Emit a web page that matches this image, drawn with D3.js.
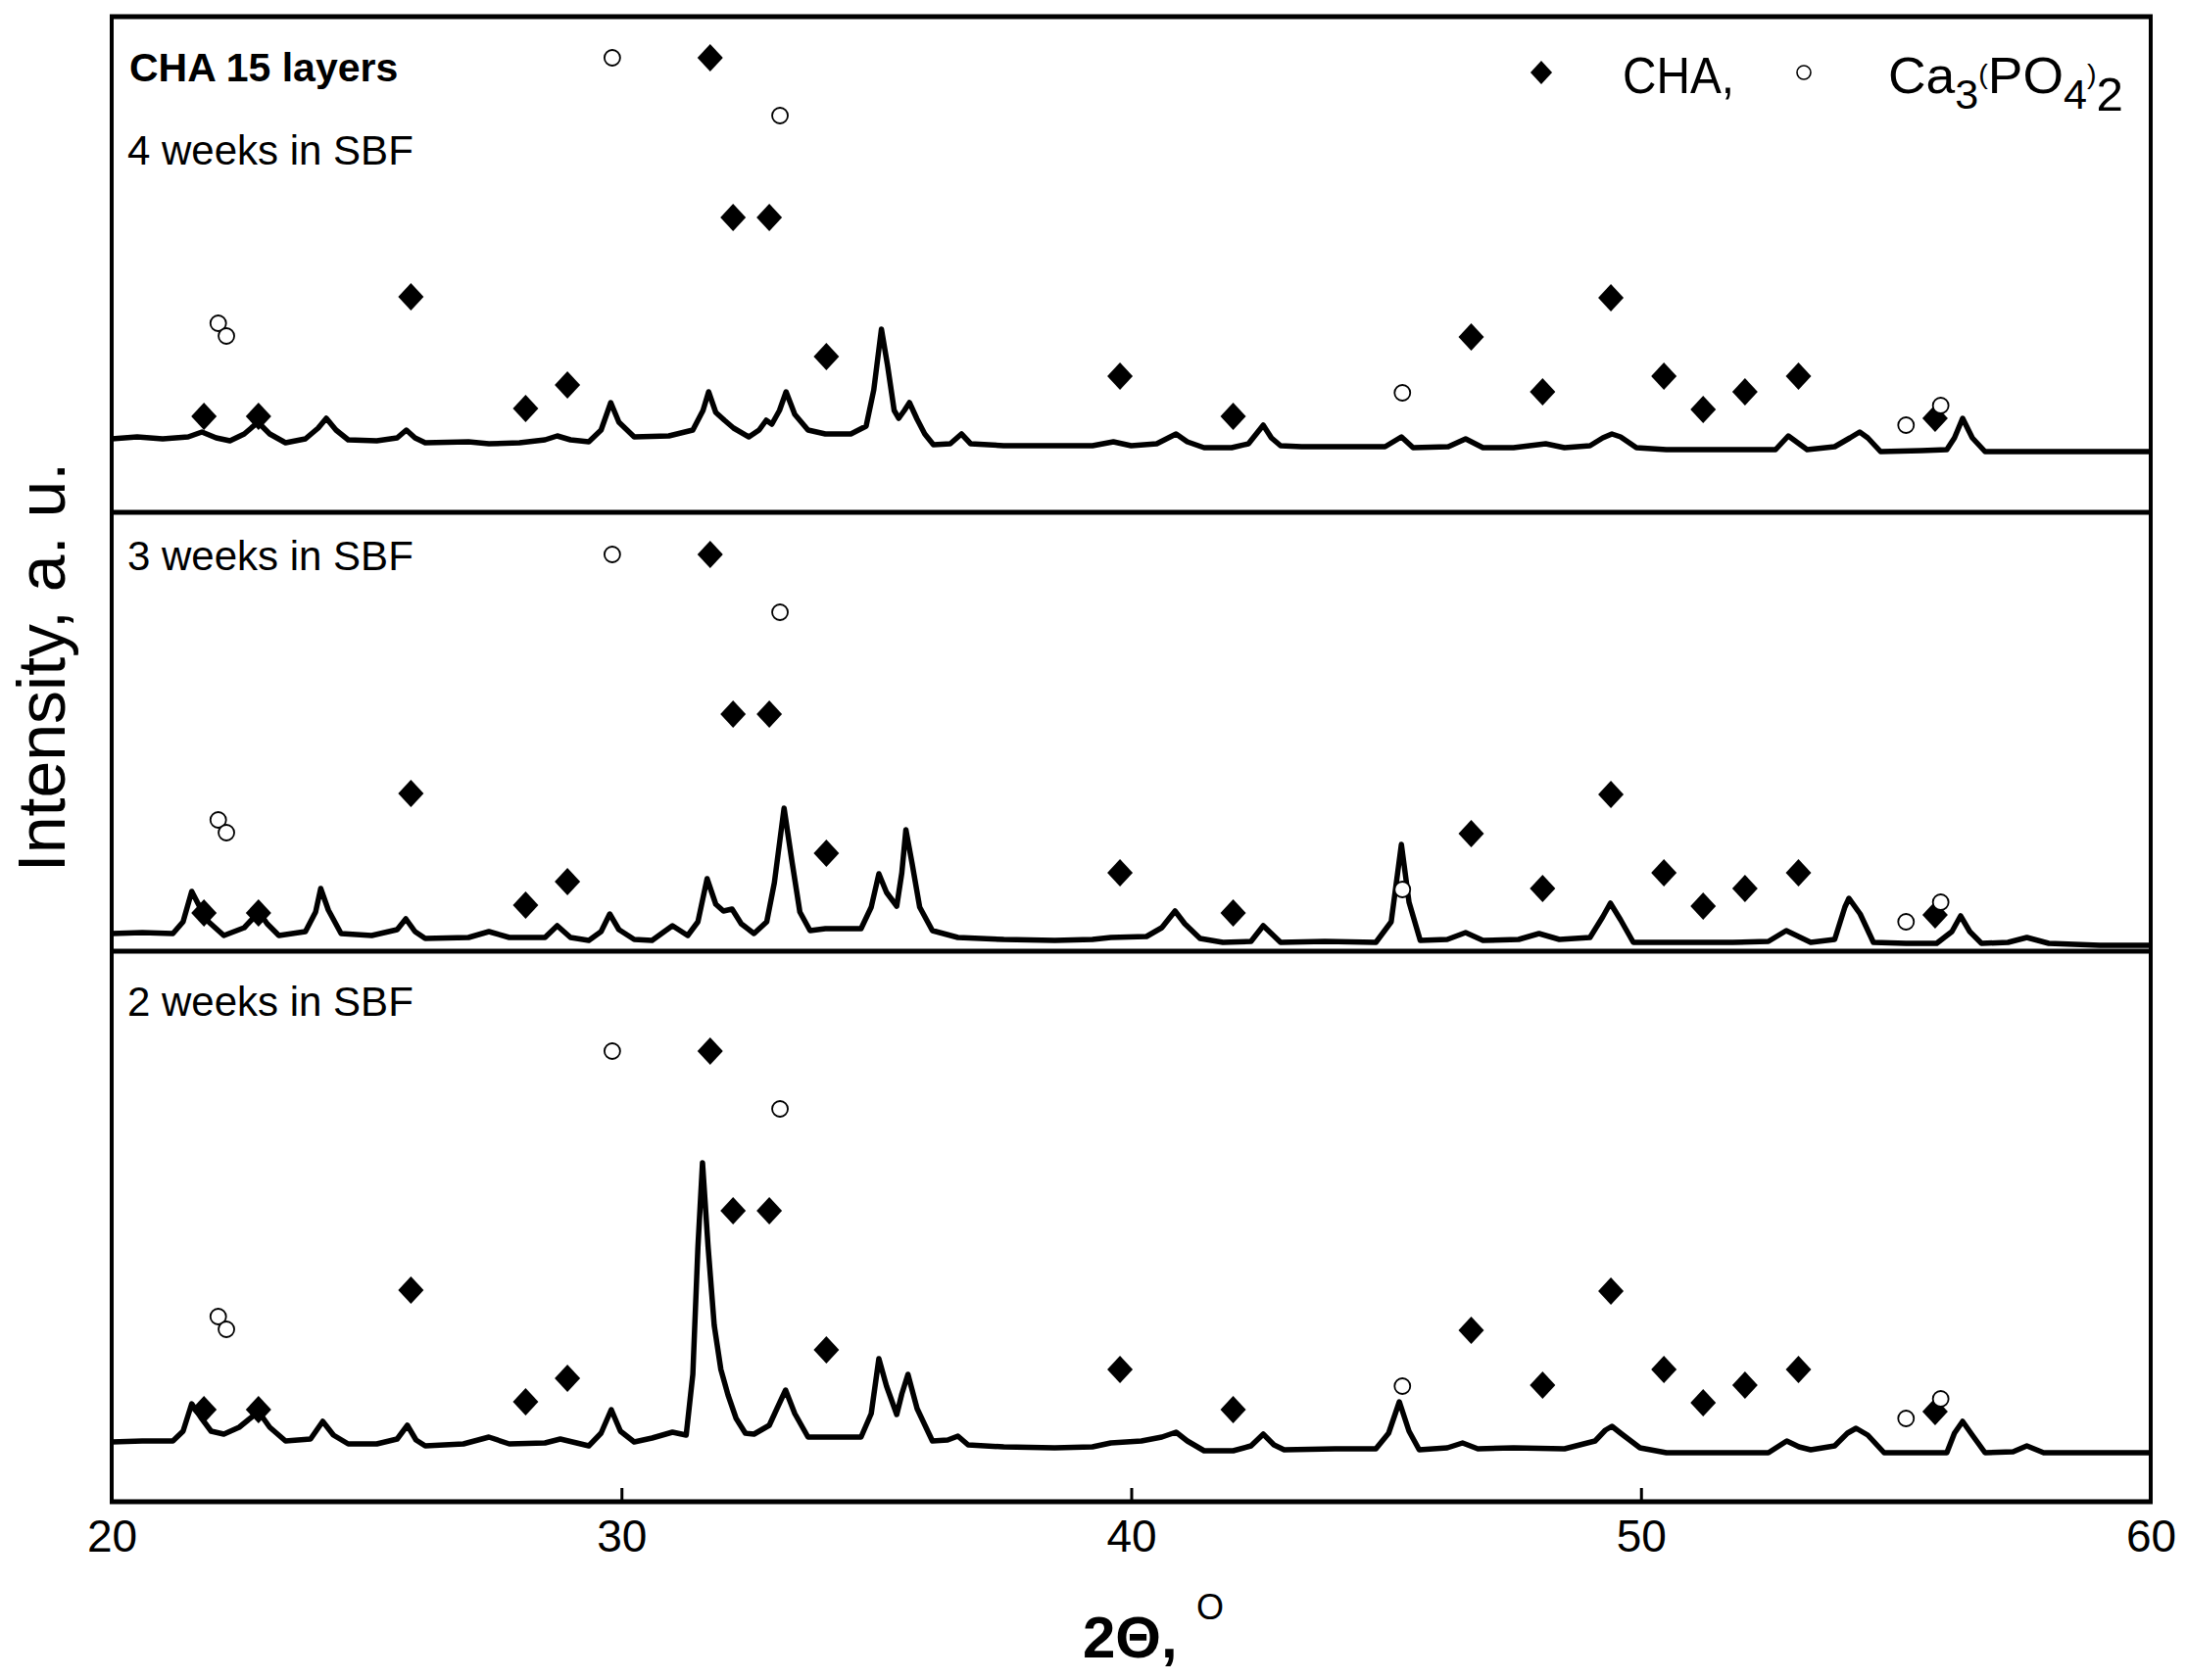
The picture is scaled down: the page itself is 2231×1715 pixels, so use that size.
<!DOCTYPE html>
<html><head><meta charset="utf-8">
<script src="https://cdn.jsdelivr.net/npm/d3@7"></script>
<style>
body{margin:0;background:#fff}
svg{display:block}
text{font-family:"Liberation Sans",Arial,Helvetica,sans-serif;fill:#000}
</style>
</head><body>
<svg id="chart" width="2231" height="1715"></svg>
<script>
// ---------- data ----------
const xTicks = [20, 30, 40, 50, 60];
const panelLabels = ["4 weeks in SBF", "3 weeks in SBF", "2 weeks in SBF"];
const panelMax = [506, 448, 562];      // intensity range (a.u.) shown in each panel
const markerBase = [75, 16, 71];       // a.u. level of the reference-pattern base in each panel

// reference peaks [2theta, relative level]
const chaPeaks = [[21.81,23],[22.88,23],[25.87,145],[28.12,31],[28.94,55],[31.74,389],[32.19,226],[32.90,226],
  [34.02,84],[39.78,64],[42.00,23],[46.67,104],[48.07,48],[49.41,144],[50.45,64],[51.22,30],[52.04,48],[53.09,64],[55.77,21]];
const tcpPeaks = [[22.09,118],[22.25,105],[29.82,389],[33.11,330],[45.32,47],[55.20,14],[55.88,34]];

// measured patterns [2theta, intensity a.u.]
const week4 = [[20.0,75],[20.5,77],[21.0,75],[21.5,77],[21.77,82],[22.05,76],[22.32,73],[22.6,80],[22.87,92],[23.1,80],[23.41,71],
 [23.8,75],[24.05,86],[24.21,96],[24.4,84],[24.64,74],[25.2,73],[25.6,76],[25.78,84],[25.95,76],[26.15,71],[27.0,72],[27.4,70],
 [28.0,71],[28.5,74],[28.74,78],[29.0,74],[29.36,72],[29.6,84],[29.79,112],[29.95,92],[30.25,77],[30.93,78],[31.4,84],[31.6,104],
 [31.71,123],[31.85,102],[32.02,94],[32.2,86],[32.5,77],[32.7,84],[32.84,94],[32.95,90],[33.1,104],[33.23,123],[33.4,100],[33.66,84],
 [34.0,80],[34.5,80],[34.8,88],[34.95,125],[35.1,187],[35.22,150],[35.35,104],[35.44,96],[35.55,104],[35.65,112],[35.8,95],[35.95,80],
 [36.12,69],[36.45,70],[36.67,80],[36.85,70],[37.5,68],[38.5,68],[39.24,68],[39.65,72],[40.0,68],[40.5,70],[40.88,80],[41.1,72],
 [41.43,66],[41.97,66],[42.3,70],[42.59,89],[42.75,76],[42.93,68],[43.34,67],[44.3,67],[44.98,67],[45.3,77],[45.53,66],[46.22,67],
 [46.56,75],[46.9,66],[47.5,66],[48.13,70],[48.5,66],[49.0,68],[49.25,76],[49.43,80],[49.6,77],[49.91,66],[50.5,64],[51.5,64],
 [52.64,64],[52.89,78],[53.26,64],[53.8,67],[54.1,76],[54.29,82],[54.45,76],[54.7,62],[55.5,63],[56.0,64],[56.15,76],[56.31,96],
 [56.5,76],[56.75,62],[57.5,62],[58.5,62],[59.82,62],[60.0,62]];
const week3 = [[20.0,18],[20.6,19],[21.2,18],[21.4,30],[21.57,61],[21.7,48],[21.9,30],[22.2,16],[22.6,24],[22.89,40],[23.05,28],
 [23.28,16],[23.8,20],[24.0,40],[24.1,64],[24.25,42],[24.5,18],[25.1,16],[25.6,22],[25.77,33],[25.95,20],[26.15,13],[27.0,14],
 [27.4,20],[27.8,14],[28.5,14],[28.74,26],[29.0,14],[29.36,11],[29.6,20],[29.77,38],[29.95,22],[30.25,12],[30.6,11],[31.0,26],
 [31.3,16],[31.5,30],[31.68,74],[31.85,48],[32.0,41],[32.17,43],[32.35,28],[32.6,18],[32.85,30],[33.0,70],[33.19,146],[33.35,90],
 [33.5,40],[33.7,21],[34.0,23],[34.7,23],[34.9,45],[35.05,79],[35.2,60],[35.4,46],[35.5,80],[35.58,124],[35.7,90],[35.85,45],
 [36.1,21],[36.6,14],[37.5,12],[38.5,11],[39.24,12],[39.6,14],[40.3,15],[40.6,24],[40.86,41],[41.05,28],[41.35,13],[41.8,9],
 [42.35,10],[42.59,26],[42.93,9],[43.8,10],[44.8,9],[45.1,30],[45.3,109],[45.45,50],[45.67,11],[46.2,12],[46.56,19],[46.9,11],
 [47.6,12],[48.0,18],[48.4,12],[49.0,14],[49.25,35],[49.4,49],[49.6,32],[49.85,9],[50.8,9],[51.8,9],[52.5,10],[52.85,21],[53.33,9],
 [53.8,12],[54.0,45],[54.08,54],[54.3,38],[54.56,9],[55.2,8],[55.8,8],[56.1,20],[56.27,36],[56.45,20],[56.68,8],[57.2,9],[57.57,14],
 [58.0,8],[59.0,6],[60.0,6]];
const week2 = [[20.0,61],[20.6,62],[21.2,62],[21.4,72],[21.57,100],[21.75,86],[21.95,72],[22.2,69],[22.5,76],[22.88,92],[23.1,76],
 [23.41,62],[23.9,64],[24.14,82],[24.35,68],[24.64,59],[25.2,59],[25.6,64],[25.8,78],[25.97,63],[26.15,57],[26.9,59],[27.4,66],
 [27.8,59],[28.5,60],[28.8,64],[29.36,57],[29.6,70],[29.8,94],[29.98,72],[30.25,61],[30.6,65],[31.0,71],[31.27,68],[31.4,130],
 [31.5,260],[31.59,346],[31.7,260],[31.82,180],[31.95,135],[32.09,109],[32.25,85],[32.43,70],[32.6,69],[32.9,78],[33.05,95],
 [33.22,114],[33.4,90],[33.66,66],[34.0,66],[34.7,66],[34.9,90],[35.05,146],[35.2,118],[35.4,89],[35.5,110],[35.62,130],[35.8,95],
 [36.1,62],[36.4,63],[36.6,67],[36.8,58],[37.5,56],[38.5,55],[39.24,56],[39.6,60],[40.2,62],[40.6,66],[40.88,71],[41.1,62],
 [41.43,52],[42.0,52],[42.35,57],[42.59,69],[42.8,58],[43.0,53],[44.0,54],[44.8,54],[45.05,70],[45.26,102],[45.45,72],[45.65,53],
 [46.2,55],[46.5,60],[46.8,54],[47.5,55],[48.5,54],[49.1,62],[49.3,73],[49.43,77],[49.6,70],[49.98,55],[50.5,50],[51.5,50],
 [52.5,50],[52.86,62],[53.1,56],[53.33,53],[53.8,57],[54.05,70],[54.22,75],[54.45,68],[54.77,50],[55.3,50],[56.0,50],[56.15,70],
 [56.31,82],[56.5,68],[56.75,50],[57.3,51],[57.57,57],[57.9,50],[59.0,50],[60.0,50]];
const series = [week4, week3, week2];

// ---------- layout ----------
const svg = d3.select("#chart");
svg.append("rect").attr("width",2231).attr("height",1715).attr("fill","#fff");
const L = 114, R = 2195;
const panelTop = [17, 523, 971];
const x = d3.scaleLinear().domain([20, 60]).range([L, R]);

const diamond = "M0,-14L13,0L0,14L-13,0Z";

series.forEach((data, i) => {
  const top = panelTop[i];
  const y = d3.scaleLinear().domain([0, panelMax[i]]).range([top + panelMax[i], top]);
  const g = svg.append("g");
  g.append("path").datum(data)
    .attr("fill","none").attr("stroke","#000").attr("stroke-width",5.5)
    .attr("stroke-linejoin","round")
    .attr("d", d3.line().x(d => x(d[0])).y(d => y(d[1])));
  g.selectAll("path.cha").data(chaPeaks).join("path").attr("class","cha")
    .attr("d", diamond).attr("fill","#000")
    .attr("transform", d => `translate(${x(d[0])},${y(markerBase[i] + d[1])})`);
  g.selectAll("circle.tcp").data(tcpPeaks).join("circle").attr("class","tcp")
    .attr("r", 8).attr("fill","#fff").attr("stroke","#000").attr("stroke-width",1.8)
    .attr("cx", d => x(d[0])).attr("cy", d => y(markerBase[i] + d[1]));
});

// panel labels
const labelY = [168, 582, 1037];
panelLabels.forEach((t, i) => {
  svg.append("text").attr("x", 130).attr("y", labelY[i]).attr("font-size", 42).text(t);
});
svg.append("text").attr("x", 132).attr("y", 83).attr("font-size", 41).attr("font-weight","bold").text("CHA 15 layers");

// legend
svg.append("path").attr("d", diamond).attr("fill","#000").attr("transform","translate(1573,74) scale(0.85)");
svg.append("text").attr("x", 1656).attr("y", 95).attr("font-size", 52)
  .attr("textLength", 114).attr("lengthAdjust","spacingAndGlyphs").text("CHA,");
svg.append("circle").attr("cx", 1841).attr("cy", 74).attr("r", 7).attr("fill","#fff").attr("stroke","#000").attr("stroke-width",1.6);
const leg = svg.append("text").attr("x", 1927).attr("y", 95).attr("font-size", 52)
  .attr("textLength", 240).attr("lengthAdjust","spacingAndGlyphs");
leg.append("tspan").text("Ca");
leg.append("tspan").attr("dy", 16).attr("font-size", 42).text("3");
leg.append("tspan").attr("dy", -26).attr("font-size", 28).text("(");
leg.append("tspan").attr("dy", 10).text("PO");
leg.append("tspan").attr("dy", 16).attr("font-size", 42).text("4");
leg.append("tspan").attr("dy", -26).attr("font-size", 28).text(")");
leg.append("tspan").attr("dy", 28).attr("font-size", 48).text("2");

// frame and dividers
svg.append("rect").attr("x", L).attr("y", 17).attr("width", R - L).attr("height", 1533 - 17)
  .attr("fill","none").attr("stroke","#000").attr("stroke-width",4);
[17, 523, 971, 1533].forEach(v => {
  svg.append("line").attr("x1", L - 2).attr("x2", R + 2).attr("y1", v).attr("y2", v)
    .attr("stroke","#000").attr("stroke-width",5);
});

// x axis
const ax = svg.append("g").attr("transform","translate(0,1533)")
  .call(d3.axisBottom(x).tickValues(xTicks).tickSizeInner(-14).tickSizeOuter(0).tickPadding(18).tickFormat(d3.format("d")));
ax.select(".domain").remove();
ax.selectAll(".tick line").attr("stroke","#000").attr("stroke-width",3);
ax.selectAll(".tick text").attr("font-size",46).attr("fill","#000")
  .attr("font-family","'Liberation Sans',Arial,sans-serif");

// axis titles
svg.append("text").attr("transform","translate(66,681) rotate(-90)").attr("text-anchor","middle")
  .attr("font-size",68).text("Intensity, a. u.");
svg.append("text").attr("x",1105).attr("y",1692).attr("font-size",60).attr("font-weight","bold").text("2Θ,");
svg.append("text").attr("x",1221).attr("y",1653).attr("font-size",36).text("O");
</script>
</body></html>
